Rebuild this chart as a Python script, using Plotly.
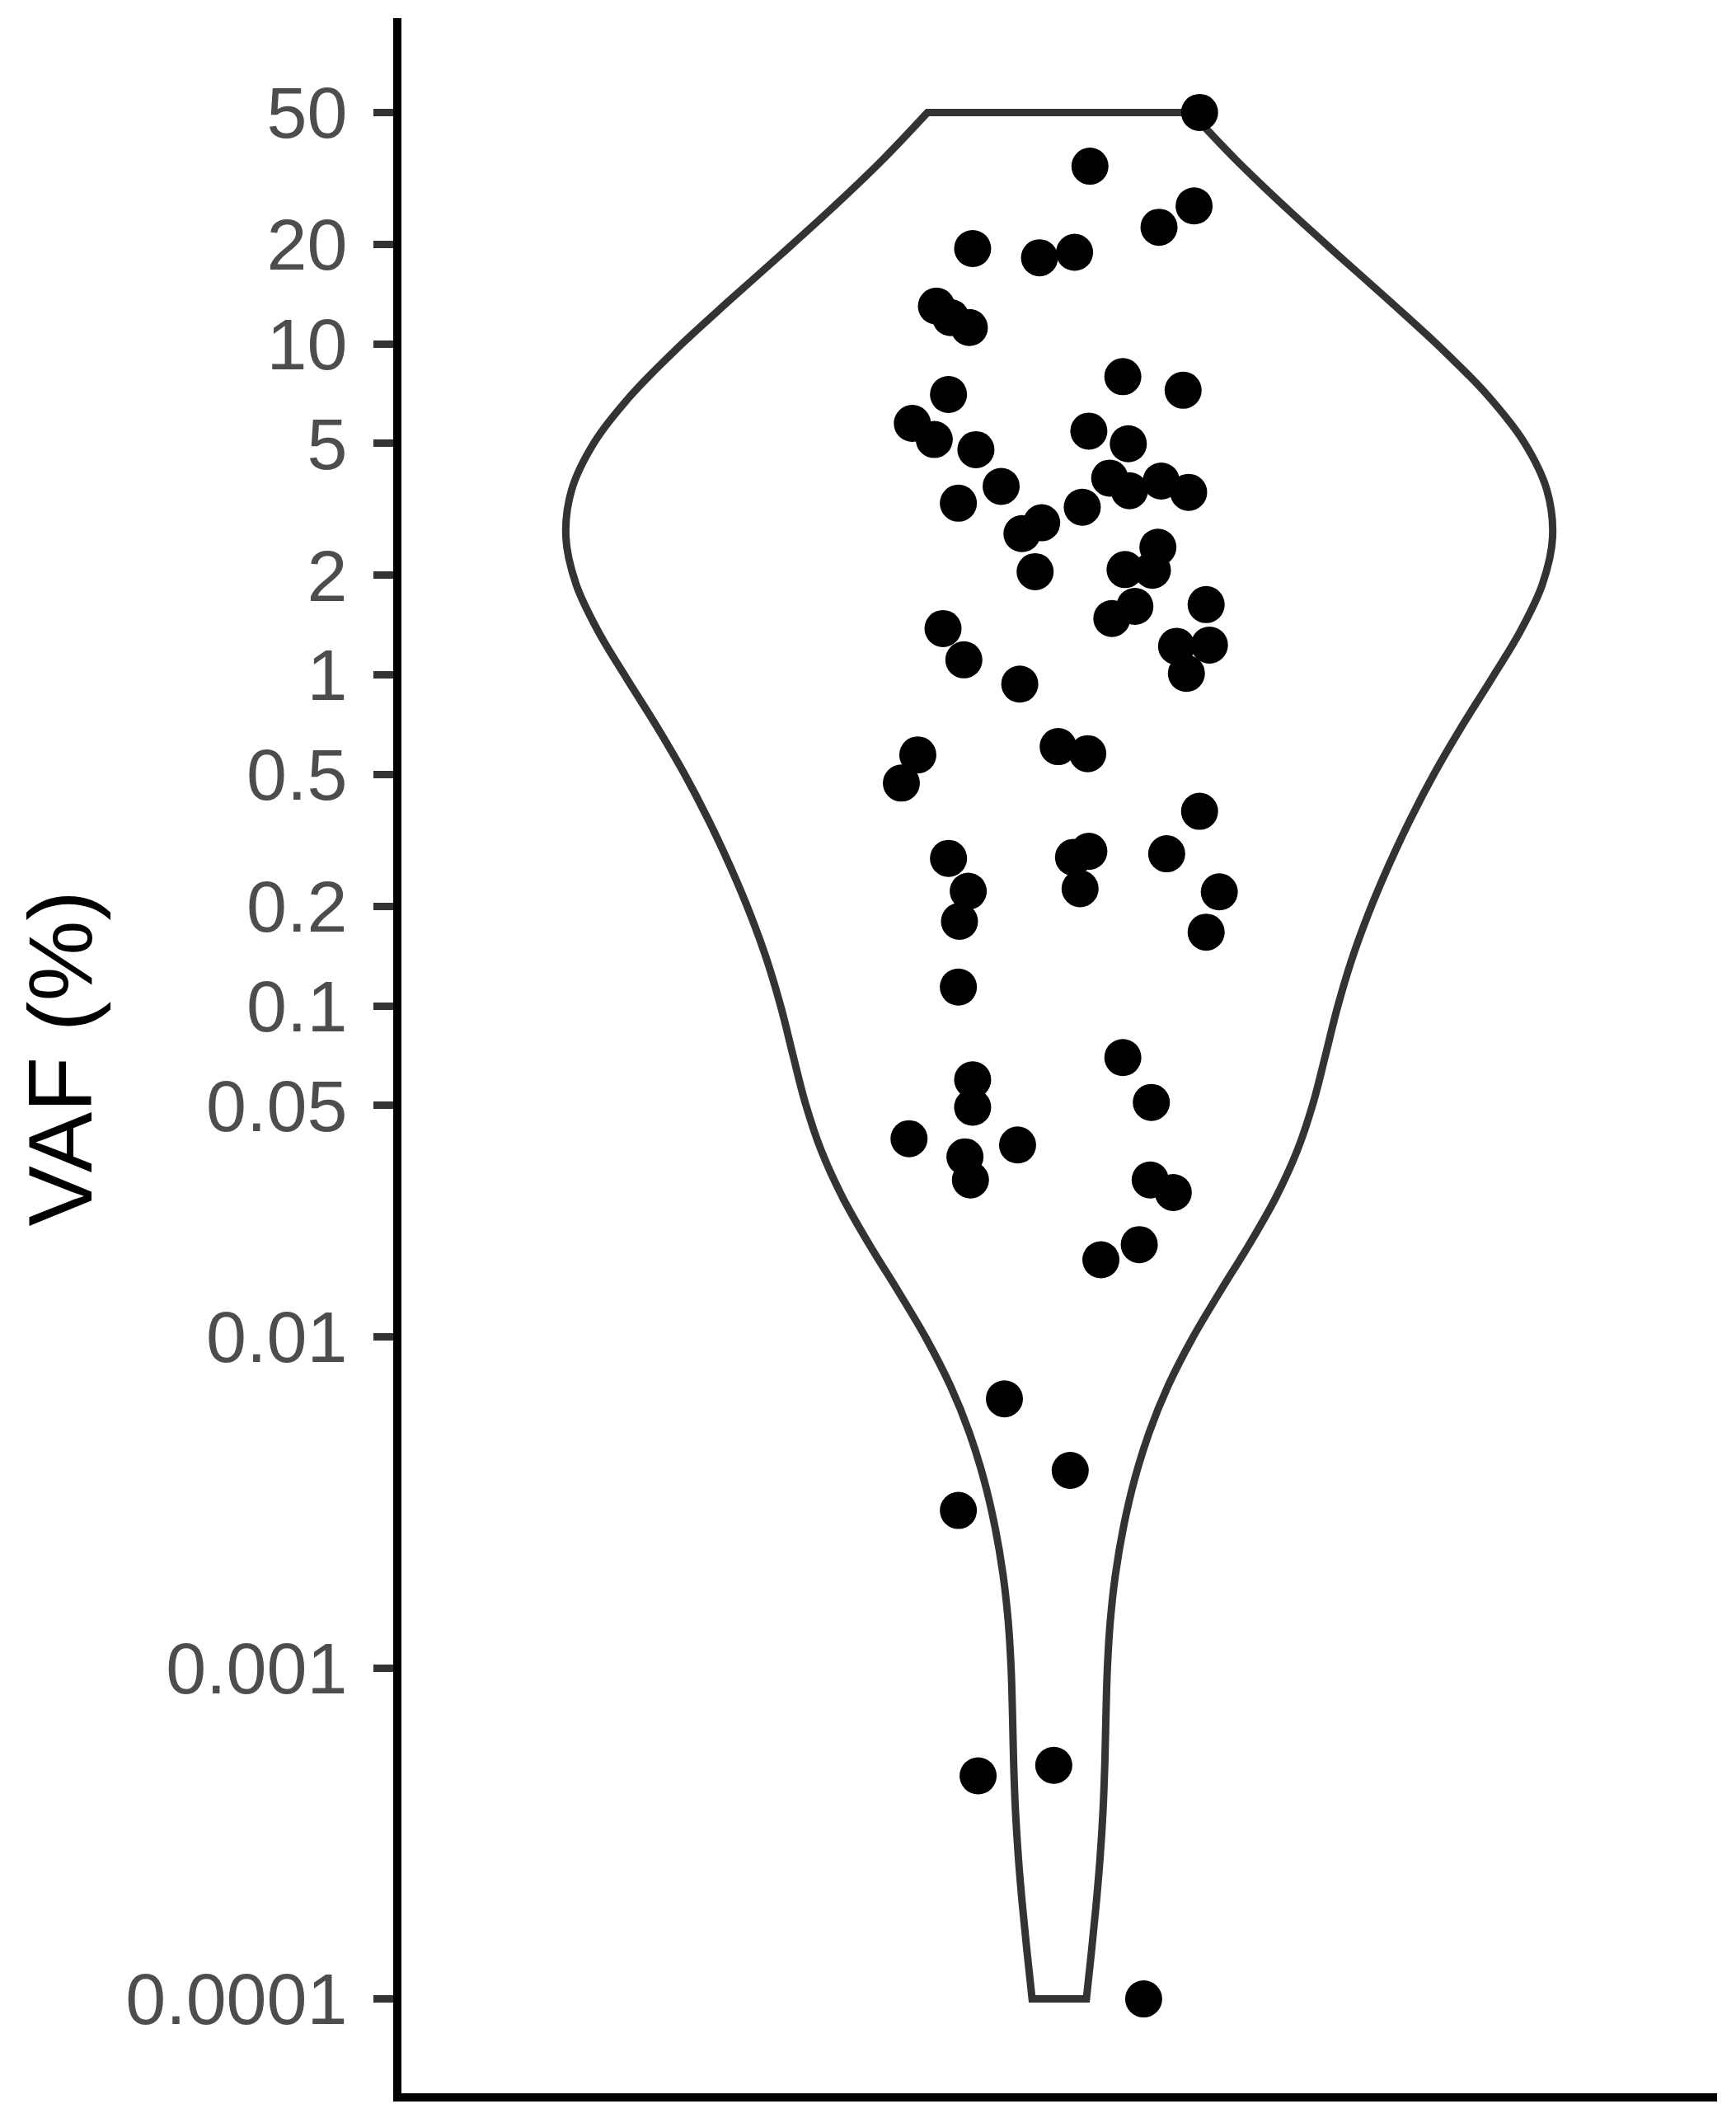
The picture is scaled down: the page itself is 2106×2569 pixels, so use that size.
import numpy as np
import plotly.graph_objects as go

# VAF (%) values
vaf = [50.0, 34.4, 26.1, 22.5, 19.4, 18.2, 18.9, 13.0, 12.0, 11.2,
       7.96, 7.24, 7.03, 5.75, 5.14, 4.79, 5.45, 4.99,
       3.30, 3.71, 3.93, 3.60, 3.85, 3.56, 3.21, 2.67, 2.88, 2.05,
       2.43, 2.08, 2.07, 1.63, 1.61, 1.48, 1.22, 1.23, 1.01, 1.38,
       1.11, 0.938, 0.573, 0.471, 0.607, 0.578, 0.387,
       0.279, 0.222, 0.180, 0.114, 0.281, 0.293, 0.226, 0.288, 0.221,
       0.167, 0.0698, 0.0511, 0.0598, 0.0494,
       0.0397, 0.0350, 0.0298, 0.0380, 0.0298, 0.0273, 0.0190, 0.0171,
       0.00650, 0.00395, 0.00299,
       0.000472, 0.000508, 0.0001]

# horizontal jitter of each point (category units, relative to the violin centre)
jitter = [0.128, 0.028, 0.123, 0.091, -0.079, -0.018, 0.014, -0.112, -0.099, -0.082,
          0.058, 0.113, -0.101, -0.134, -0.114, -0.076, 0.027, 0.063,
          -0.092, -0.053, 0.046, 0.064, 0.093, 0.118, 0.021, -0.034, -0.016, -0.022,
          0.090, 0.060, 0.085, 0.134, 0.069, 0.048, 0.107, 0.137, 0.116, -0.106,
          -0.087, -0.036, -0.129, -0.144, -0.001, 0.026, 0.128,
          -0.101, -0.083, -0.091, -0.092, 0.013, 0.027, 0.019, 0.098, 0.146,
          0.134, 0.058, 0.084, -0.079, -0.079,
          -0.137, -0.086, -0.081, -0.038, 0.083, 0.104, 0.073, 0.038,
          -0.050, 0.010, -0.092,
          -0.074, -0.005, 0.077]

tick_values = [50, 20, 10, 5, 2, 1, 0.5, 0.2, 0.1, 0.05, 0.01, 0.001, 0.0001]
tick_labels = ["50", "20", "10", "5", "2", "1", "0.5", "0.2", "0.1", "0.05",
               "0.01", "0.001", "0.0001"]

ylog = np.log10(np.array(vaf))

# R bw.nrd0 bandwidth (as used by ggplot2 geom_violin)
sd = np.std(ylog, ddof=1)
iqr = np.quantile(ylog, 0.75) - np.quantile(ylog, 0.25)
bw = 0.9 * min(sd, iqr / 1.34) * len(ylog) ** (-0.2)

lo, hi = ylog.min(), ylog.max()
pad = 0.05 * (hi - lo)

FONT = "Liberation Sans, Arial, Helvetica, sans-serif"

fig = go.Figure()
fig.add_trace(go.Violin(
    y=ylog, x0=0, width=0.9, bandwidth=bw, spanmode="hard",
    points=False, box_visible=False, meanline_visible=False,
    line=dict(color="#333333", width=9), fillcolor="rgba(255,255,255,0)",
    scalemode="width", side="both", showlegend=False, hoverinfo="skip",
))
fig.add_trace(go.Scatter(
    x=jitter, y=ylog, mode="markers",
    marker=dict(size=45, color="black", line=dict(width=0)),
    showlegend=False, hoverinfo="skip",
))

# the page body adds an 8 px margin, so the figure is made 8 px smaller
fig.update_layout(
    width=2098, height=2561,
    margin=dict(l=479, r=23, t=14, b=30),
    paper_bgcolor="white", plot_bgcolor="white",
    font=dict(family=FONT),
    xaxis=dict(range=[-0.6, 0.6], showticklabels=False, ticks="", showgrid=False,
               zeroline=False, showline=True, linecolor="black", linewidth=10),
    yaxis=dict(range=[lo - pad, hi + pad], tickmode="array",
               tickvals=list(np.log10(tick_values)), ticktext=tick_labels,
               ticks="outside", ticklen=24, tickwidth=9, tickcolor="#333333",
               ticklabelstandoff=14,
               tickfont=dict(size=88, color="#4D4D4D", family=FONT),
               showgrid=False, zeroline=False, showline=True,
               linecolor="black", linewidth=10),
    annotations=[dict(text="VAF (%)", xref="paper", yref="paper", x=0, y=0.5,
                      xanchor="center", yanchor="middle", xshift=-415, yshift=-4,
                      textangle=-90, showarrow=False,
                      font=dict(size=110, color="black", family=FONT))],
)

fig.write_html("out.html")
